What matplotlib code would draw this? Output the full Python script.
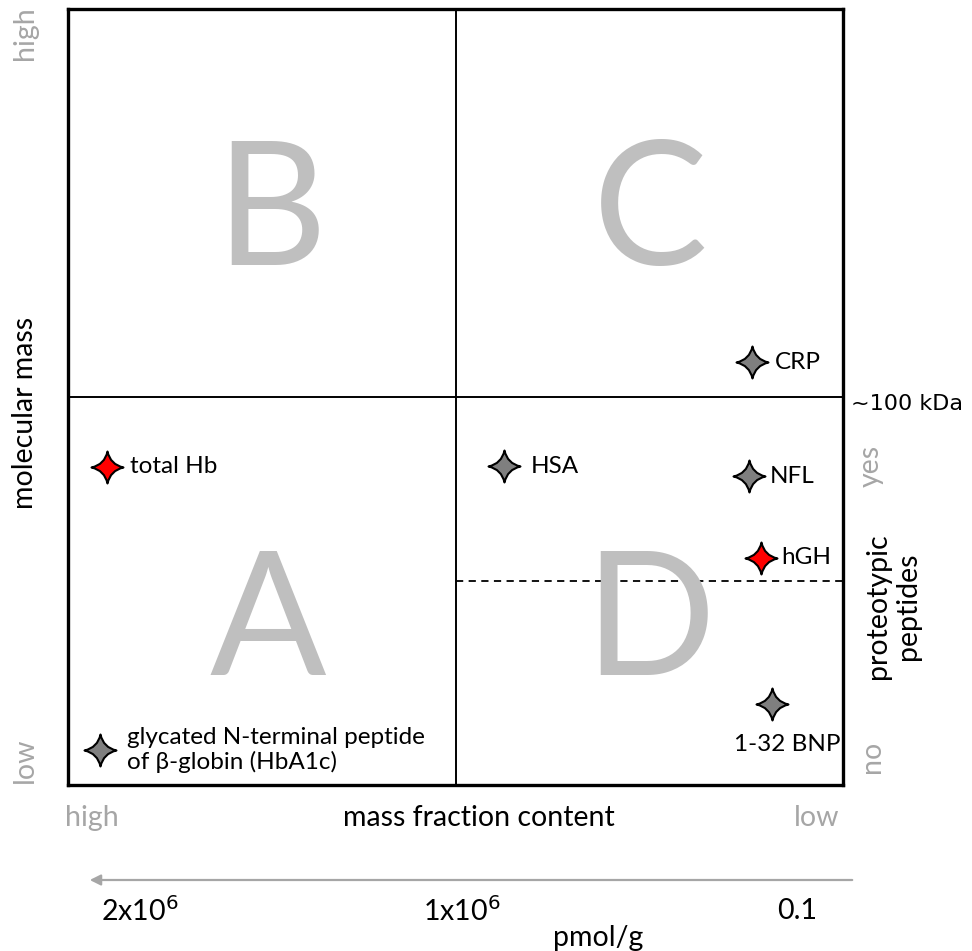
import matplotlib
matplotlib.use("Agg")
import matplotlib.pyplot as plt
from matplotlib.path import Path

plt.rcParams['font.family'] = ['Lato', 'DejaVu Sans']

# marker data (x = mass fraction content, high -> low; y = molecular mass, low -> high)
names = ['total Hb', 'glycated N-terminal peptide\nof β-globin (HbA1c)', 'HSA', 'CRP', 'NFL', 'hGH', '1-32 BNP']
xs = [0.050, 0.041, 0.563, 0.883, 0.879, 0.894, 0.908]
ys = [0.410, 0.045, 0.411, 0.545, 0.398, 0.293, 0.104]
is_red = [True, False, False, False, False, True, False]

quad_letters = ['B', 'C', 'A', 'D']
quad_x = [0.262, 0.752, 0.258, 0.751]
quad_y = [0.733, 0.733, 0.204, 0.204]

scale_labels = ['2x10$^6$', '1x10$^6$', '0.1']
scale_px = [140, 462, 797]

# label placement (offset in points, alignment)
label_off = [(16.5, 0), (19.5, 0), (19, 0), (16.5, 0), (15, 0), (15, 0), (11.5, -29)]
label_ha = ['left', 'left', 'left', 'left', 'left', 'left', 'center']

W, H = 972, 951

# four point star
def star():
    c = 0.18
    verts = [(0, 1), (c, c), (1, 0), (c, -c), (0, -1), (-c, -c), (-1, 0), (-c, c), (0, 1), (0, 1)]
    codes = [Path.MOVETO] + [Path.CURVE3] * 8 + [Path.CLOSEPOLY]
    return Path(verts, codes)

def ftext(px, py, s, **kw):
    # text placed by pixel position in the figure
    fig.text(px / W, 1 - py / H, s, ha=kw.pop('ha', 'center'), va=kw.pop('va', 'center'), **kw)

fig = plt.figure(figsize=(W / 100, H / 100), dpi=100)
ax = fig.add_axes([68 / W, 1 - 785 / H, 775 / W, 776 / H])
ax.set_xlim(0, 1)
ax.set_ylim(0, 1)
ax.set_xticks([])
ax.set_yticks([])
for s in ax.spines.values():
    s.set_linewidth(2.4)
    s.set_zorder(5)

grey = '#a6a6a6'
ax.axvline(0.5, color='black', lw=1.4)
ax.axhline(0.5, color='black', lw=1.4)
ax.plot([0.5, 1], [0.263, 0.263], color='black', lw=1.3, ls=(0, (4, 3)))

for L, qx, qy in zip(quad_letters, quad_x, quad_y):
    ax.text(qx, qy, L, fontsize=124, color='#bfbfbf', ha='center', va='center')

mk = star()
for n, x, y, r, off, ha in zip(names, xs, ys, is_red, label_off, label_ha):
    ax.plot(x, y, marker=mk, ms=23, mfc='#ff0000' if r else '#7f7f7f', mec='black', mew=1.5, zorder=6)
    ax.annotate(n, (x, y), xytext=off, textcoords='offset points', ha=ha, va='center',
                fontsize=17.5, linespacing=1.2)

# axis descriptions
fs = 20.5
ftext(25, 413, 'molecular mass', rotation=90, fontsize=fs)
ftext(25, 33, 'high', rotation=90, fontsize=fs, color=grey)
ftext(25, 760, 'low', rotation=90, fontsize=fs, color=grey)
ftext(479, 818, 'mass fraction content', fontsize=fs)
ftext(92, 818, 'high', fontsize=fs, color=grey)
ftext(817, 818, 'low', fontsize=fs, color=grey)
ftext(851, 404, '~100 kDa', ha='left', fontsize=16, family='DejaVu Sans')
ftext(871, 466, 'yes', rotation=90, fontsize=fs, color=grey)
ftext(872, 757, 'no', rotation=90, fontsize=fs, color=grey)
ftext(893, 606, 'proteotypic\npeptides', rotation=90, fontsize=fs, linespacing=1.15)

# concentration arrow
fig.add_artist(matplotlib.patches.FancyArrowPatch((855 / W, 1 - 880 / H), (87 / W, 1 - 880 / H),
               transform=fig.transFigure, arrowstyle='-|>', color=grey, lw=1.6, mutation_scale=16))
for t, px in zip(scale_labels, scale_px):
    ftext(px, 911, t, fontsize=fs)
ftext(598, 938, 'pmol/g', fontsize=fs)

fig.savefig('out.png', dpi=100)
